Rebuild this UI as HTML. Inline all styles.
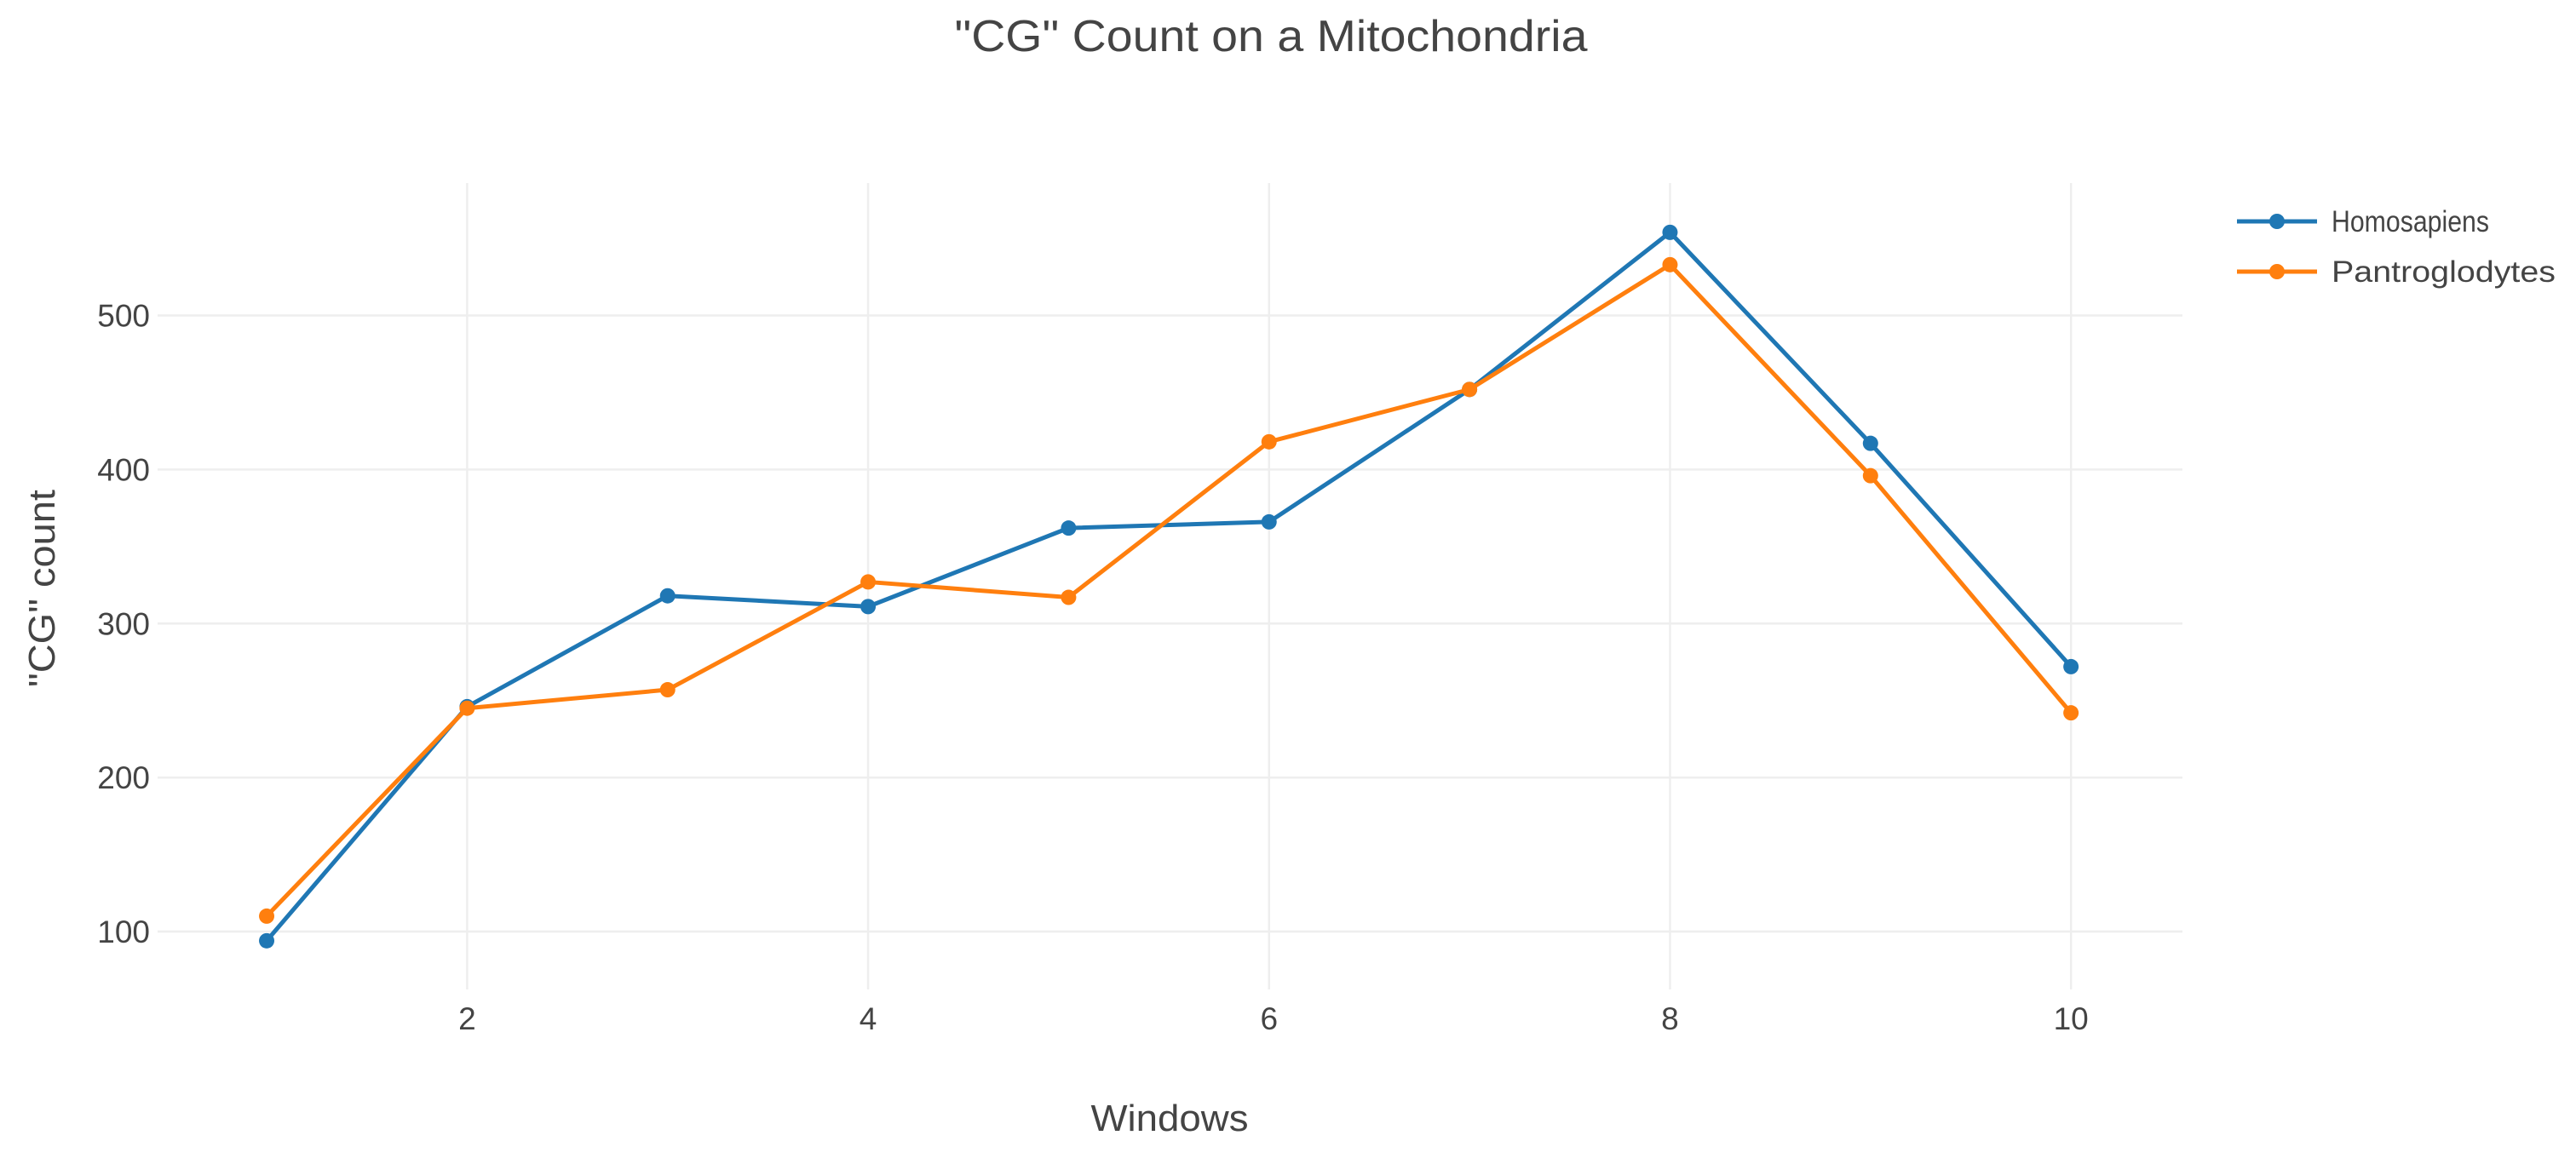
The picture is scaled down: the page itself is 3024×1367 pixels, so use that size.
<!DOCTYPE html>
<html><head><meta charset="utf-8"><style>
html,body{margin:0;padding:0;background:#fff;}
svg{display:block;font-family:"Liberation Sans",sans-serif;}
</style></head><body>
<svg id="chart" width="3024" height="1367" viewBox="0 0 3024 1367">
<text x="1492" y="60" font-size="52" fill="#444" text-anchor="middle" textLength="743" lengthAdjust="spacingAndGlyphs">"CG" Count on a Mitochondria</text>
<g id="grid"></g>
<g id="axes"></g>
<g id="series"></g>
<text x="1373" y="1328" font-size="44" fill="#444" text-anchor="middle" textLength="185" lengthAdjust="spacingAndGlyphs">Windows</text>
<text transform="translate(64,691) rotate(-90)" font-size="44" fill="#444" text-anchor="middle" textLength="232" lengthAdjust="spacingAndGlyphs">"CG" count</text>
<g id="legend"></g>
</svg>
<script>
const windows = [1,2,3,4,5,6,7,8,9,10];
const homosapiens = [94,246,318,311,362,366,452,554,417,272];
const pantroglodytes = [110,245,257,327,317,418,452,533,396,242];
const xTicks = [2,4,6,8,10];
const yTicks = [100,200,300,400,500];
const seriesNames = ["Homosapiens","Pantroglodytes"];
const seriesColors = ["#1f77b4","#ff7f0e"];

const L=185,R=2562,T=215,B=1162;
const xMin=0.456,xMax=10.556,yMin=62.4,yMax=586;
const sx=v=>L+(v-xMin)/(xMax-xMin)*(R-L);
const sy=v=>B-(v-yMin)/(yMax-yMin)*(B-T);
const NS="http://www.w3.org/2000/svg";
function mk(tag,attrs,parent){const e=document.createElementNS(NS,tag);for(const k in attrs)e.setAttribute(k,attrs[k]);parent.appendChild(e);return e;}
const grid=document.getElementById('grid'),axes=document.getElementById('axes'),series=document.getElementById('series'),legend=document.getElementById('legend');
xTicks.forEach(t=>{
  const l=mk('line',{x1:sx(t),x2:sx(t),y1:T,y2:B,stroke:'#eee','stroke-width':2.5},grid);
  
  
  const tx=mk('text',{x:sx(t),y:1209,'font-size':37,fill:'#444','text-anchor':'middle'},axes);
  tx.textContent=t;
  
  
});
yTicks.forEach(t=>{
  const l=mk('line',{x1:L,x2:R,y1:sy(t),y2:sy(t),stroke:'#eee','stroke-width':2.5},grid);
  
  
  const tx=mk('text',{x:176,y:sy(t)+13,'font-size':37,fill:'#444','text-anchor':'end'},axes);
  tx.textContent=t;
  
  
});
[homosapiens,pantroglodytes].forEach((vals,i)=>{
  const g=mk('g',{},series);
  
  
  const pts=vals.map((v,j)=>sx(windows[j])+','+sy(v)).join(' ');
  const pl=mk('polyline',{points:pts,fill:'none',stroke:seriesColors[i],'stroke-width':5,'stroke-linejoin':'round'},g);
  
  
  vals.forEach((v,j)=>{
    const c=mk('circle',{cx:sx(windows[j]),cy:sy(v),r:9,fill:seriesColors[i]},g);
    
    
  });
  const ly=260+i*59;
  const lg=mk('g',{},legend);
  
  
  mk('line',{x1:2626,x2:2720,y1:ly,y2:ly,stroke:seriesColors[i],'stroke-width':5},lg);
  mk('circle',{cx:2673,cy:ly,r:9,fill:seriesColors[i]},lg);
  const lt=mk('text',{x:2737,y:ly+12,'font-size':35,fill:'#444',textLength:i?263:185,lengthAdjust:'spacingAndGlyphs'},lg);
  lt.textContent=seriesNames[i];
});
</script>
</body></html>
